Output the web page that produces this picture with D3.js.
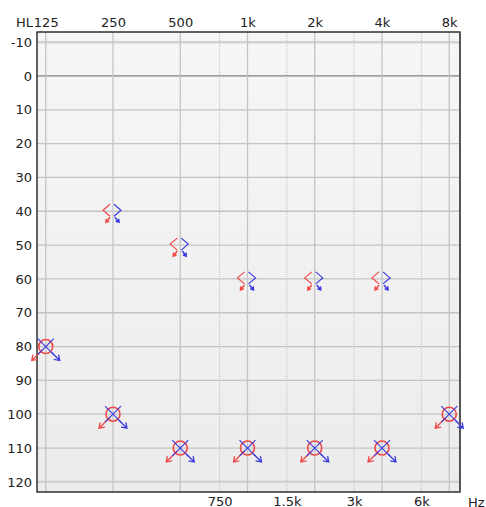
<!DOCTYPE html>
<html>
<head>
<meta charset="utf-8">
<script src="https://cdn.jsdelivr.net/npm/d3@7"></script>
<style>
    body { margin: 0; background: #fff; }
    text { font-family: "DejaVu Sans", sans-serif; font-size: 13px; fill: #222; }
</style>
</head>
<body>
<div id="chart"></div>
<script>
// Audiogram data
const octaveFreqs = [125, 250, 500, 1000, 2000, 4000, 8000];
const octaveLabels = ['125', '250', '500', '1k', '2k', '4k', '8k'];
const halfFreqs = [750, 1500, 3000, 6000];
const halfLabels = ['750', '1.5k', '3k', '6k'];
const dbTicks = [-10, 0, 10, 20, 30, 40, 50, 60, 70, 80, 90, 100, 110, 120];

// air conduction, no response (right = O red, left = X blue)
const acFreqs = [125, 250, 500, 1000, 2000, 4000, 8000];
const acRight = [80, 100, 110, 110, 110, 110, 100];
const acLeft = [80, 100, 110, 110, 110, 110, 100];

// bone conduction, no response (right = < red, left = > blue)
const bcFreqs = [250, 500, 1000, 2000, 4000];
const bcRight = [40, 50, 60, 60, 60];
const bcLeft = [40, 50, 60, 60, 60];

const width = 486, height = 507;
const plotL = 37, plotR = 460, plotT = 32, plotB = 492;
const RED = '#f04848', BLUE = '#3a3ae0';

const svg = d3.select('#chart').append('svg')
    .attr('width', width)
    .attr('height', height);

const x = d3.scaleLog().base(2)
    .domain([125 / Math.pow(2, 0.13), 8000 * Math.pow(2, 0.16)])
    .range([plotL, plotR]);
const y = d3.scaleLinear().domain([-13, 123]).range([plotT, plotB]);

// background
const grad = svg.append('defs').append('linearGradient')
    .attr('id', 'bg').attr('x1', 0).attr('y1', 0).attr('x2', 0).attr('y2', 1);
grad.append('stop').attr('offset', '0%').attr('stop-color', '#f6f6f6');
grad.append('stop').attr('offset', '100%').attr('stop-color', '#ececec');

svg.append('rect')
    .attr('x', plotL).attr('y', plotT)
    .attr('width', plotR - plotL).attr('height', plotB - plotT)
    .style('fill', 'url(#bg)');

// grid
const grid = svg.append('g');
grid.selectAll('line.h')
    .data(dbTicks)
    .enter().append('line')
    .attr('x1', plotL).attr('x2', plotR)
    .attr('y1', d => y(d)).attr('y2', d => y(d))
    .style('stroke', d => d === 0 ? '#808080' : (d === -10 || d === 120 ? '#d2d2d2' : '#c4c4c4'))
    .style('stroke-width', d => (d === -10 || d === 120) ? 2.5 : 1.3);

grid.selectAll('line.v')
    .data(octaveFreqs)
    .enter().append('line')
    .attr('x1', d => x(d)).attr('x2', d => x(d))
    .attr('y1', plotT).attr('y2', plotB)
    .style('stroke', '#c4c4c4')
    .style('stroke-width', 1.3);

grid.selectAll('line.d')
    .data(halfFreqs)
    .enter().append('line')
    .attr('x1', d => x(d)).attr('x2', d => x(d))
    .attr('y1', plotT).attr('y2', plotB)
    .style('stroke', '#c0c0c0')
    .style('stroke-dasharray', '1,1');

// frame
svg.append('rect')
    .attr('x', plotL).attr('y', plotT)
    .attr('width', plotR - plotL).attr('height', plotB - plotT)
    .style('fill', 'none')
    .style('stroke', '#111')
    .style('stroke-width', 1.3);
svg.append('line')
    .attr('x1', plotR).attr('x2', plotR).attr('y1', plotT).attr('y2', plotB)
    .style('stroke', '#555').style('stroke-width', 2);

// axes
const topAxis = svg.append('g')
    .attr('transform', `translate(0,${plotT})`)
    .call(d3.axisTop(x).tickValues(octaveFreqs)
        .tickFormat((d, i) => octaveLabels[i]).tickSize(0).tickPadding(5));
const leftAxis = svg.append('g')
    .attr('transform', `translate(${plotL},0)`)
    .call(d3.axisLeft(y).tickValues(dbTicks).tickSize(0).tickPadding(5)
        .tickFormat(d => d < 0 ? '-' + Math.abs(d) : d));
const bottomAxis = svg.append('g')
    .attr('transform', `translate(0,${plotB})`)
    .call(d3.axisBottom(x).tickValues(halfFreqs)
        .tickFormat((d, i) => halfLabels[i]).tickSize(0).tickPadding(5));

[topAxis, leftAxis, bottomAxis].forEach(a => {
    a.select('.domain').remove();
    a.selectAll('text').style('font-family', '"DejaVu Sans", sans-serif')
        .style('font-size', '13px').style('fill', '#222');
});

svg.append('text').attr('x', plotL - 4).attr('y', plotT - 5)
    .attr('text-anchor', 'end').text('HL');
svg.append('text').attr('x', 468).attr('y', plotB + 14.5).text('Hz');

// arrow heads
function arrowPath(x0, y0, x1, y1, head) {
    const a = Math.atan2(y1 - y0, x1 - x0);
    const h1 = [x1 - head * Math.cos(a - 0.6), y1 - head * Math.sin(a - 0.6)];
    const h2 = [x1 - head * Math.cos(a + 0.6), y1 - head * Math.sin(a + 0.6)];
    return `M${x0},${y0}L${x1},${y1}M${h1[0]},${h1[1]}L${x1},${y1}L${h2[0]},${h2[1]}`;
}

// air conduction right: O + arrow down-left
const acR = svg.append('g').selectAll('g')
    .data(acFreqs.map((f, i) => ({ f, v: acRight[i] })))
    .enter().append('g')
    .attr('transform', d => `translate(${x(d.f)},${y(d.v)})`);
acR.append('circle').attr('r', 7)
    .style('fill', 'none').style('stroke', RED).style('stroke-width', 1.6);
acR.append('path').attr('d', arrowPath(-3, 3, -14, 14, 6))
    .style('fill', 'none').style('stroke', RED).style('stroke-width', 1.3);

// air conduction left: X + arrow down-right
const acL = svg.append('g').selectAll('g')
    .data(acFreqs.map((f, i) => ({ f, v: acLeft[i] })))
    .enter().append('g')
    .attr('transform', d => `translate(${x(d.f)},${y(d.v)})`);
acL.append('path').attr('d', 'M-8,-8L8,8M8,-8L-8,8')
    .style('stroke', BLUE).style('stroke-width', 1.1).style('fill', 'none');
acL.append('path').attr('d', arrowPath(6, 6, 14, 14, 6))
    .style('fill', 'none').style('stroke', BLUE).style('stroke-width', 1.3);

// bone conduction right: <
const bcR = svg.append('g').selectAll('g')
    .data(bcFreqs.map((f, i) => ({ f, v: bcRight[i] })))
    .enter().append('g')
    .attr('transform', d => `translate(${x(d.f)},${y(d.v)})`);
bcR.append('path').attr('d', 'M-3,-7L-10,-1L-3,5')
    .style('fill', 'none').style('stroke', RED).style('stroke-width', 1.2);
bcR.append('path').attr('d', arrowPath(-3, 6, -7, 11, 3.5))
    .style('fill', 'none').style('stroke', RED).style('stroke-width', 1.5);

// bone conduction left: >
const bcL = svg.append('g').selectAll('g')
    .data(bcFreqs.map((f, i) => ({ f, v: bcLeft[i] })))
    .enter().append('g')
    .attr('transform', d => `translate(${x(d.f)},${y(d.v)})`);
bcL.append('path').attr('d', 'M1,-7L8,-1L1,5')
    .style('fill', 'none').style('stroke', BLUE).style('stroke-width', 1.2);
bcL.append('path').attr('d', arrowPath(2, 6, 6, 11, 3.5))
    .style('fill', 'none').style('stroke', BLUE).style('stroke-width', 1.5);
</script>
</body>
</html>
